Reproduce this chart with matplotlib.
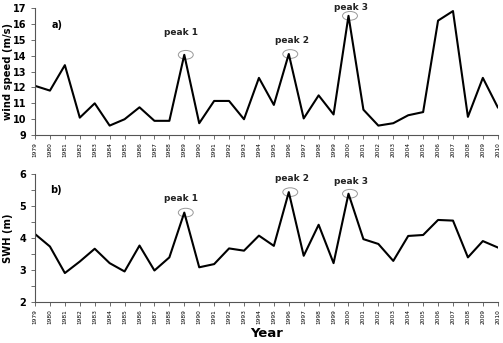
import matplotlib.pyplot as plt
from matplotlib.patches import Ellipse

years = list(range(1979, 2011))
wind_speed = [12.1, 11.8, 13.4, 10.1, 11.0, 9.6, 10.0, 10.75, 9.9, 9.9,
              14.05, 9.75, 11.15, 11.15, 10.0, 12.6, 10.9, 14.1, 10.05, 11.5,
              10.3, 16.5, 10.6, 9.6, 9.75, 10.25, 10.45, 16.2, 16.8, 10.15,
              12.6, 10.75]
swh = [4.12, 3.73, 2.9, 3.26, 3.66, 3.21, 2.95, 3.76, 2.98, 3.39,
       4.79, 3.08, 3.18, 3.67, 3.6, 4.07, 3.75, 5.43, 3.44, 4.41,
       3.21, 5.38, 3.96, 3.81, 3.28, 4.06, 4.09, 4.56, 4.54, 3.39,
       3.9, 3.7]
peak_years = [1989, 1996, 2000]
peak_labels = ["peak 1", "peak 2", "peak 3"]

fig = plt.figure(figsize=(5.03, 3.43), dpi=100)
ax1 = fig.add_axes([0.0696, 0.606, 0.920, 0.371])
ax2 = fig.add_axes([0.0696, 0.120, 0.920, 0.373])

# label offsets (in data units) above the peaks
text_dy = {0: [1.15, 0.55, 0.25], 1: [0.3, 0.29, 0.25]}
text_dx = [-0.25, 0.2, 0.2]
ell_h = [0.55, 0.27]

for i, (ax, vals) in enumerate([(ax1, wind_speed), (ax2, swh)]):
    ax.plot(years, vals, color='black', lw=1.5)
    for j, py in enumerate(peak_years):
        v = vals[years.index(py)]
        ax.add_patch(Ellipse((py + 0.1, v), 1.0, ell_h[i], fill=False,
                             ec='#999999', lw=0.7))
        ax.text(py + text_dx[j], v + text_dy[i][j], peak_labels[j], ha='center',
                va='bottom', fontsize=6.5, fontweight='bold', color='#222222')
    ax.set_xlim(1979, 2010)
    ax.set_xticks(years)
    ax.set_xticklabels([str(y) for y in years], rotation=90, fontsize=4.2)
    for s in ['top', 'right']:
        ax.spines[s].set_visible(False)
    ax.spines['left'].set_color('#555555')
    ax.spines['bottom'].set_color('#555555')
    ax.tick_params(axis='both', length=3, width=0.6, color='#555555')
    ax.tick_params(axis='x', pad=2)
    ax.yaxis.set_label_coords(-0.047, 0.5)

ax1.set_ylim(9, 17)
ax1.set_yticks(range(9, 18))
ax1.set_yticklabels([str(v) for v in range(9, 18)], fontsize=7, fontweight='bold')
ax1.set_ylabel("wind speed (m/s)", fontsize=7.2, fontweight='bold')
ax1.text(1980.1, 15.95, "a)", fontsize=7, fontweight='bold', va='center')

ax2.set_ylim(2, 6)
ax2.set_yticks(range(2, 7))
ax2.set_yticks([2.5, 3.5, 4.5, 5.5], minor=True)
ax2.tick_params(axis='y', which='minor', length=3, width=0.6, color='#555555')
ax2.set_yticklabels([str(v) for v in range(2, 7)], fontsize=7, fontweight='bold')
ax2.set_ylabel("SWH (m)", fontsize=7.2, fontweight='bold')
ax2.set_xlabel("Year", fontsize=9.5, fontweight='bold', labelpad=2)
ax2.text(1980.0, 5.5, "b)", fontsize=7, fontweight='bold', va='center')

fig.savefig("out.png", dpi=100)
